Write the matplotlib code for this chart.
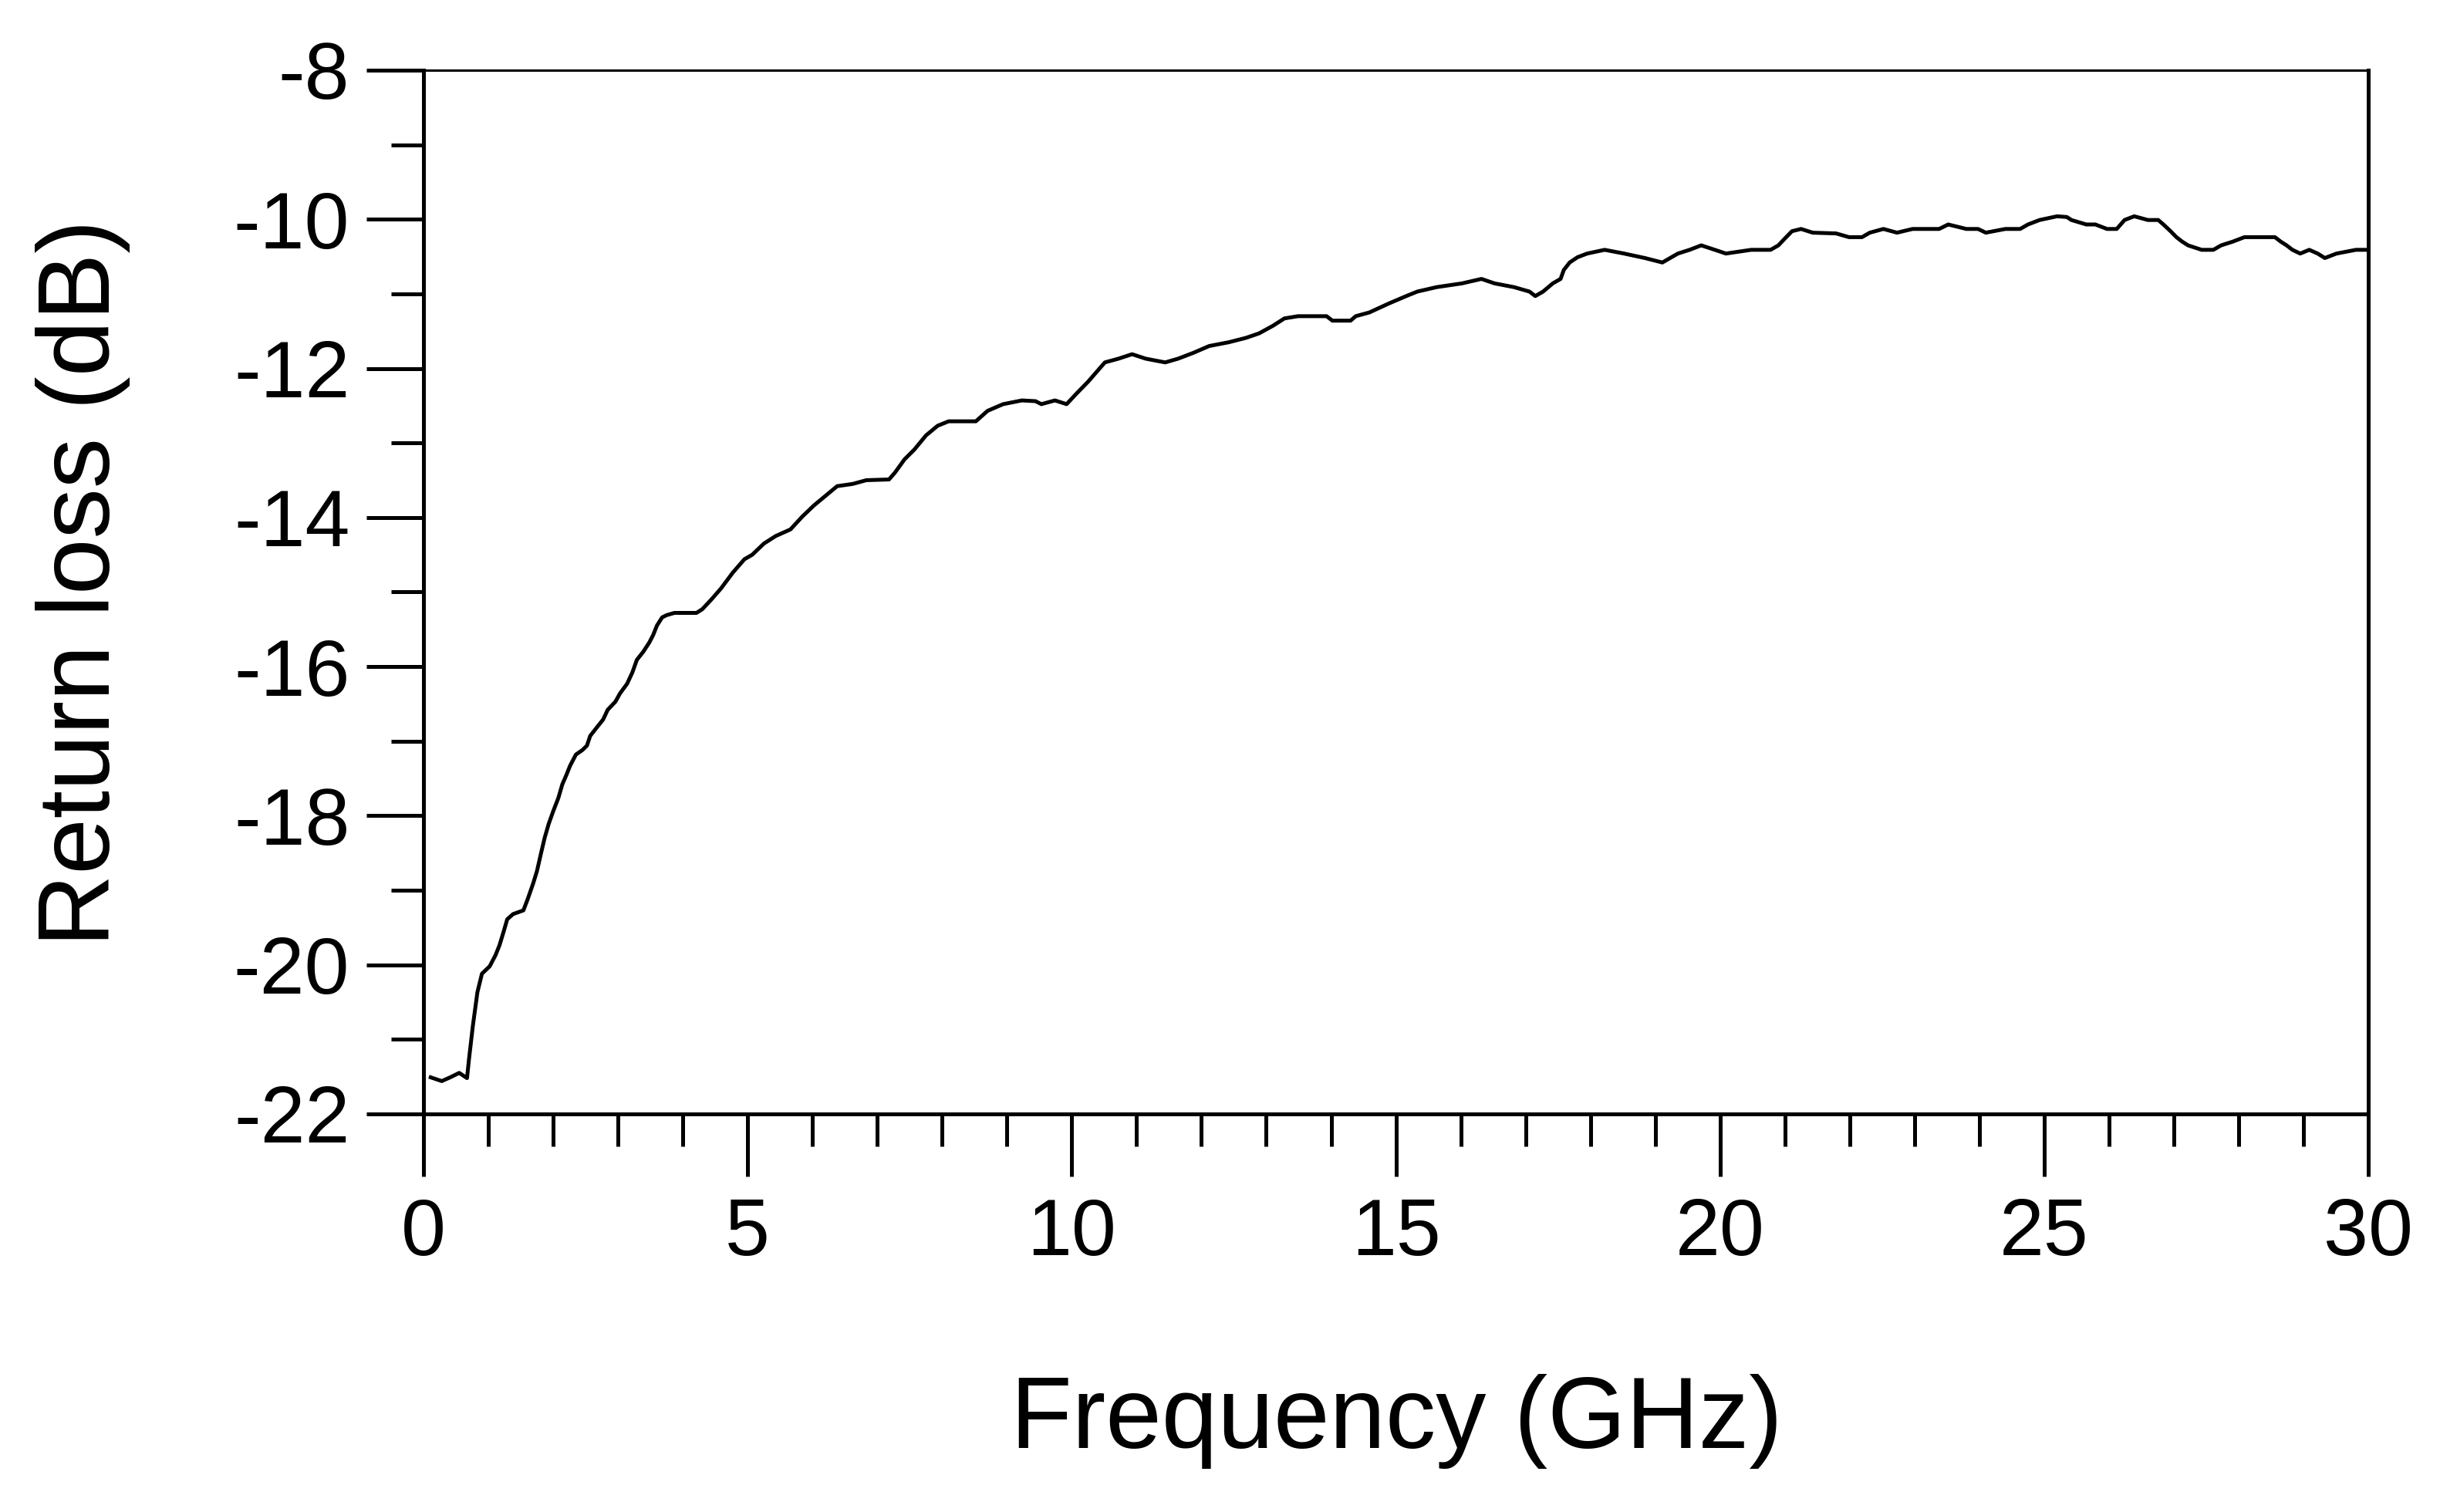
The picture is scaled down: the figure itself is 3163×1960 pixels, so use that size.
# import matplotlib for making the graph
import matplotlib
matplotlib.use("Agg")
import matplotlib.pyplot as plt
from matplotlib.ticker import MultipleLocator

# frequency points (GHz)
freq_0_4 = [0.11, 0.28, 0.41, 0.55, 0.67, 0.70, 0.76, 0.83, 0.90, 1.02,
            1.11, 1.17, 1.23, 1.29, 1.38, 1.54, 1.61, 1.69, 1.75, 1.81,
            1.87, 1.93, 2.00, 2.08, 2.14, 2.20, 2.26, 2.35, 2.45, 2.52,
            2.57, 2.66, 2.77, 2.84, 2.96, 3.03, 3.14, 3.22, 3.29, 3.39,
            3.48, 3.54, 3.60, 3.68, 3.75, 3.87, 4.21]
rl_0_4 = [-21.51, -21.56, -21.51, -21.45, -21.52, -21.27, -20.82, -20.37, -20.12, -20.02,
          -19.87, -19.74, -19.57, -19.39, -19.32, -19.27, -19.11, -18.91, -18.74, -18.51,
          -18.29, -18.11, -17.94, -17.76, -17.58, -17.46, -17.33, -17.18, -17.12, -17.06,
          -16.93, -16.83, -16.71, -16.58, -16.47, -16.36, -16.23, -16.08, -15.91, -15.80,
          -15.68, -15.58, -15.45, -15.34, -15.31, -15.28, -15.28]

freq_4_14 = [4.30, 4.44, 4.59, 4.77, 4.95, 5.07, 5.25, 5.43, 5.66, 5.84,
             6.02, 6.20, 6.38, 6.62, 6.83, 7.18, 7.27, 7.42, 7.57, 7.75,
             7.93, 8.10, 8.52, 8.70, 8.94, 9.23, 9.44, 9.53, 9.74, 9.92,
             10.07, 10.25, 10.40, 10.51, 10.72, 10.93, 11.14, 11.44, 11.64, 11.88,
             12.12, 12.42, 12.69, 12.89, 13.10, 13.28, 13.49, 13.93]
rl_4_14 = [-15.23, -15.10, -14.95, -14.74, -14.56, -14.50, -14.35, -14.25, -14.16, -13.99,
           -13.84, -13.71, -13.58, -13.55, -13.50, -13.49, -13.40, -13.22, -13.09, -12.90,
           -12.77, -12.71, -12.71, -12.57, -12.48, -12.43, -12.44, -12.48, -12.43, -12.48,
           -12.34, -12.18, -12.03, -11.92, -11.87, -11.81, -11.87, -11.92, -11.87, -11.79,
           -11.70, -11.65, -11.59, -11.53, -11.43, -11.33, -11.30, -11.30]

freq_14_22 = [14.02, 14.30, 14.38, 14.59, 14.74, 14.89, 15.16, 15.33, 15.63, 16.02,
              16.32, 16.52, 16.82, 17.06, 17.15, 17.27, 17.42, 17.54, 17.59, 17.68,
              17.80, 17.95, 18.22, 18.52, 18.84, 19.11, 19.23, 19.35, 19.53, 19.71,
              19.92, 20.09, 20.48, 20.78, 20.90, 21.02, 21.11, 21.25, 21.43, 21.79]
rl_14_22 = [-11.36, -11.36, -11.30, -11.25, -11.19, -11.13, -11.03, -10.97, -10.91, -10.86,
            -10.80, -10.86, -10.91, -10.97, -11.03, -10.97, -10.86, -10.80, -10.68, -10.58,
            -10.51, -10.46, -10.41, -10.46, -10.52, -10.58, -10.52, -10.46, -10.41, -10.35,
            -10.41, -10.46, -10.41, -10.41, -10.35, -10.24, -10.16, -10.13, -10.18, -10.19]

freq_22_30 = [21.99, 22.19, 22.31, 22.52, 22.73, 22.97, 23.38, 23.52, 23.80, 23.98,
              24.10, 24.40, 24.63, 24.75, 24.93, 25.20, 25.35, 25.42, 25.65, 25.79,
              25.97, 26.12, 26.24, 26.39, 26.60, 26.76, 26.84, 26.95, 27.04, 27.13,
              27.22, 27.43, 27.61, 27.73, 27.91, 28.09, 28.56, 28.65, 28.74, 28.83,
              28.95, 29.09, 29.22, 29.33, 29.51, 29.81, 30.00]
rl_22_30 = [-10.24, -10.24, -10.18, -10.13, -10.18, -10.13, -10.13, -10.07, -10.13, -10.13,
            -10.18, -10.13, -10.13, -10.07, -10.01, -9.96, -9.97, -10.01, -10.07, -10.07,
            -10.13, -10.13, -10.01, -9.96, -10.01, -10.01, -10.07, -10.16, -10.24, -10.30,
            -10.35, -10.41, -10.41, -10.35, -10.30, -10.24, -10.24, -10.30, -10.35, -10.41,
            -10.46, -10.41, -10.46, -10.52, -10.46, -10.41, -10.41]

# join the pieces into one trace
freq = freq_0_4 + freq_4_14 + freq_14_22 + freq_22_30
return_loss = rl_0_4 + rl_4_14 + rl_14_22 + rl_22_30

# axis ticks
x_major = [0, 5, 10, 15, 20, 25, 30]
y_major = [-8, -10, -12, -14, -16, -18, -20, -22]

# Arial-like font, plain hyphen for negative numbers
plt.rcParams['font.family'] = ['Liberation Sans', 'DejaVu Sans']
plt.rcParams['axes.unicode_minus'] = False

fig = plt.figure(figsize=(31.63, 19.60), dpi=100)
ax = fig.add_axes([0.1736, 0.2633, 0.7970, 0.6903])

# the measured curve
ax.plot(freq, return_loss, color='black', linewidth=3.6)

ax.set_xlim(0, 30)
ax.set_ylim(-22, -8)
ax.set_xticks(x_major)
ax.set_yticks(y_major)
ax.xaxis.set_minor_locator(MultipleLocator(1))
ax.yaxis.set_minor_locator(MultipleLocator(1))

# ticks only on the left and bottom, pointing out
ax.tick_params(axis='x', which='major', direction='out', length=58, width=3.6,
               labelsize=75, pad=20, top=False)
ax.tick_params(axis='x', which='minor', direction='out', length=30, width=3.6, top=False)
ax.tick_params(axis='y', which='major', direction='out', length=53, width=3.6,
               labelsize=75, pad=16, right=False)
ax.tick_params(axis='y', which='minor', direction='out', length=30, width=3.6, right=False)

# frame: heavy left/bottom/right, thin top
for side in ['left', 'bottom', 'right']:
    ax.spines[side].set_linewidth(3.6)
ax.spines['top'].set_linewidth(2.2)

# axis titles
fig.text(0.0341, 1 - 756 / 1960, 'Return loss (dB)', rotation=90,
         ha='center', va='center', fontsize=94)
fig.text(0.5723, 0.0600, 'Frequency (GHz)', ha='center', va='center', fontsize=94)

fig.savefig('out.png', dpi=100)
